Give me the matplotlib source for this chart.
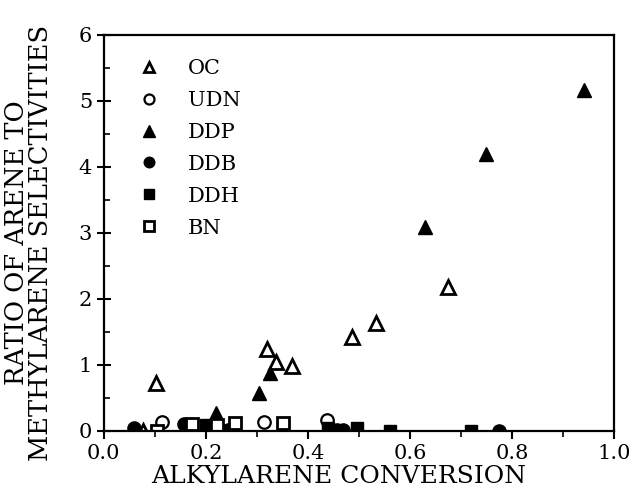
import matplotlib.pyplot as plt
from matplotlib.ticker import MultipleLocator

plt.rcParams['font.family'] = 'DejaVu Serif'

# Alkylarene conversion (x) and arene/methylarene selectivity ratio (y) per catalyst
oc_x = [0.103, 0.320, 0.338, 0.369, 0.487, 0.534, 0.674, 0.076]
oc_y = [0.73, 1.24, 1.05, 0.98, 1.42, 1.64, 2.18, 0.0]

udn_x = [0.115, 0.313, 0.437]
udn_y = [0.14, 0.14, 0.17]

ddp_x = [0.219, 0.305, 0.326, 0.629, 0.750, 0.942]
ddp_y = [0.27, 0.58, 0.88, 3.09, 4.20, 5.17]

ddb_x = [0.060, 0.157, 0.243, 0.458, 0.468, 0.775]
ddb_y = [0.05, 0.10, 0.02, 0.02, 0.02, 0.0]

ddh_x = [0.200, 0.439, 0.497, 0.561, 0.720]
ddh_y = [0.09, 0.05, 0.05, 0.0, 0.0]

bn_x = [0.105, 0.173, 0.221, 0.258, 0.351]
bn_y = [0.0, 0.10, 0.09, 0.12, 0.12]

fig = plt.figure(figsize=(6.33, 5), dpi=100)
ax = fig.add_axes([0.164, 0.138, 0.806, 0.792])

ax.plot(oc_x, oc_y, '^', ms=9.5, mfc='white', mec='black', mew=2, ls='none', label='OC')
ax.plot(udn_x, udn_y, 'o', ms=9, mfc='white', mec='black', mew=1.6, ls='none', label='UDN')
ax.plot(ddp_x, ddp_y, '^', ms=10.5, color='black', ls='none', label='DDP')
ax.plot(ddb_x, ddb_y, 'o', ms=9.5, color='black', ls='none', label='DDB')
ax.plot(ddh_x, ddh_y, 's', ms=9, color='black', ls='none', label='DDH')
ax.plot(bn_x, bn_y, 's', ms=9, mfc='white', mec='black', mew=2, ls='none', label='BN')

ax.set_xlim(0, 1.0)
ax.set_ylim(0, 6)
ax.xaxis.set_major_locator(MultipleLocator(0.2))
ax.xaxis.set_minor_locator(MultipleLocator(0.1))
ax.yaxis.set_major_locator(MultipleLocator(1))
ax.yaxis.set_minor_locator(MultipleLocator(0.5))
ax.xaxis.set_major_formatter(lambda v, pos: f'{v:.1f}')
ax.tick_params(axis='x', which='major', direction='out', length=6, width=1.5, labelsize=15)
ax.tick_params(axis='x', which='minor', direction='out', length=4, width=1.2)
ax.tick_params(axis='y', which='major', direction='inout', length=10, width=1.5, labelsize=15)
ax.tick_params(axis='y', which='minor', direction='in', length=4, width=1.2)
for s in ax.spines.values():
    s.set_linewidth(1.6)

ax.set_xlabel('ALKYLARENE CONVERSION', fontsize=18)
ax.xaxis.set_label_coords(0.46, -0.085)
ax.set_ylabel('RATIO OF ARENE TO\nMETHYLARENE SELECTIVITIES', fontsize=18.5,
              linespacing=0.95)
ax.yaxis.set_label_coords(-0.1, 0.475)

ax.legend(loc='upper left', frameon=False, fontsize=15, handletextpad=0.9,
          labelspacing=0.62, borderaxespad=0.75, markerscale=0.8)

fig.savefig('out.png', dpi=100)
